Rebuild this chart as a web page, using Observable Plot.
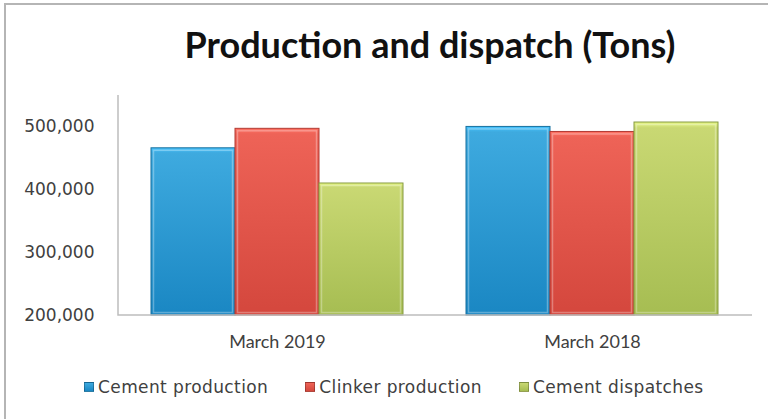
<!DOCTYPE html>
<html><head><meta charset="utf-8">
<script src="https://cdn.jsdelivr.net/npm/d3@7"></script>
<script src="https://cdn.jsdelivr.net/npm/@observablehq/plot@0.6"></script>
<style>
*{box-sizing:border-box}
body{margin:0;background:#fff;}
#chart{position:relative;width:768px;height:419px;overflow:hidden;background:#fff;}
#frame{position:absolute;left:4px;top:3px;width:800px;height:500px;border-top:2px solid #b5b5b5;border-left:2px solid #b5b5b5;pointer-events:none}
#title{height:80px;padding-top:24px;padding-left:92px;text-align:center;font-family:Lato;font-weight:bold;font-size:36px;line-height:40px;color:#111;white-space:nowrap}
#plot{height:275px}
#legend{height:64px;display:flex;align-items:center;padding-left:84px;font-family:"DejaVu Sans";font-size:17px;letter-spacing:0.4px;color:#404040;white-space:nowrap}
.item{display:flex;align-items:center;margin-right:37px}
.sw{width:10px;height:10px;margin-right:4px;border:1px solid rgba(0,0,0,0.25)}
</style></head>
<body>
<svg width="0" height="0" style="position:absolute"><defs id="defs"></defs></svg>
<div id="chart"><div id="frame"></div><div id="title"></div><div id="plot"></div><div id="legend"></div></div>
<script>
const title = "Production and dispatch (Tons)";
const categories = ["March 2019", "March 2018"];
const series = ["Cement production", "Clinker production", "Cement dispatches"];
const cementProduction = [466000, 500000];
const clinkerProduction = [497000, 492000];
const cementDispatches = [410000, 507000];
const yTicks = [200000, 300000, 400000, 500000];
const yMax = 550000;
const topColors = ["#3eaadf", "#ee6357", "#c9d873"];
const bottomColors = ["#1a87c3", "#d4473d", "#a6bd52"];
const edgeColors = ["#17709f", "#b23a33", "#869a40"];

const values = [cementProduction, clinkerProduction, cementDispatches];
const data = categories.flatMap((c, i) => series.map((s, j) => ({category: c, series: s, value: values[j][i]})));

// gradients
const defs = d3.select("#defs");
series.forEach((s, i) => {
  const g = defs.append("linearGradient").attr("id", "grad" + i).attr("x1", 0).attr("y1", 0).attr("x2", 0).attr("y2", 1);
  g.append("stop").attr("offset", "0").attr("stop-color", d3.color(topColors[i]).brighter(0.4));
  g.append("stop").attr("offset", "0.03").attr("stop-color", topColors[i]);
  g.append("stop").attr("offset", "1").attr("stop-color", bottomColors[i]);
});

document.getElementById("title").textContent = title;

const p = Plot.plot({
  width: 768, height: 275,
  marginTop: 15, marginBottom: 40, marginLeft: 118, marginRight: 16,
  style: {fontFamily: "DejaVu Sans", fontSize: "17px", color: "#404040", background: "transparent", overflow: "visible"},
  fx: {domain: categories, paddingInner: 0.193, paddingOuter: 0.1, label: null},
  x: {domain: series, padding: 0, axis: null},
  y: {domain: [yTicks[0], yMax], clamp: true},
  color: {domain: series, range: series.map((s, i) => `url(#grad${i})`)},
  marks: [
    Plot.axisY({ticks: yTicks, tickFormat: d3.format(","), tickSize: 0, tickPadding: 56, label: null, fontSize: 17}),
    Plot.axisFx({anchor: "bottom", tickSize: 0, tickPadding: 20, label: null, fontFamily: "Lato", fontSize: 18}),
    Plot.barY(data, {fx: "category", x: "series", y1: yTicks[0], y2: "value", fill: "series",
      stroke: d => edgeColors[series.indexOf(d.series)], strokeWidth: 1}),
    Plot.barY(data, {fx: "category", x: "series", y1: yTicks[0], y2: "value", inset: 2.5,
      fill: "none", stroke: "white", strokeOpacity: 0.3, strokeWidth: 1.5})
  ]
});
document.getElementById("plot").appendChild(p);

// axis lines from the plot's own scales
const ys = p.scale("y"), fxs = p.scale("fx");
const y0 = ys.apply(yTicks[0]), yTop = ys.apply(yMax);
const [xL, xR] = fxs.range;
d3.select(p).append("path").attr("d", `M${xL},${yTop}V${y0}H${xR}`)
  .attr("fill", "none").attr("stroke", "#bdbdbd").attr("stroke-width", 1.5);

const legend = d3.select("#legend");
series.forEach((s, i) => {
  const it = legend.append("div").attr("class", "item");
  it.append("div").attr("class", "sw").style("background", `linear-gradient(${topColors[i]}, ${bottomColors[i]})`);
  it.append("span").text(s);
});
</script>
</body></html>
